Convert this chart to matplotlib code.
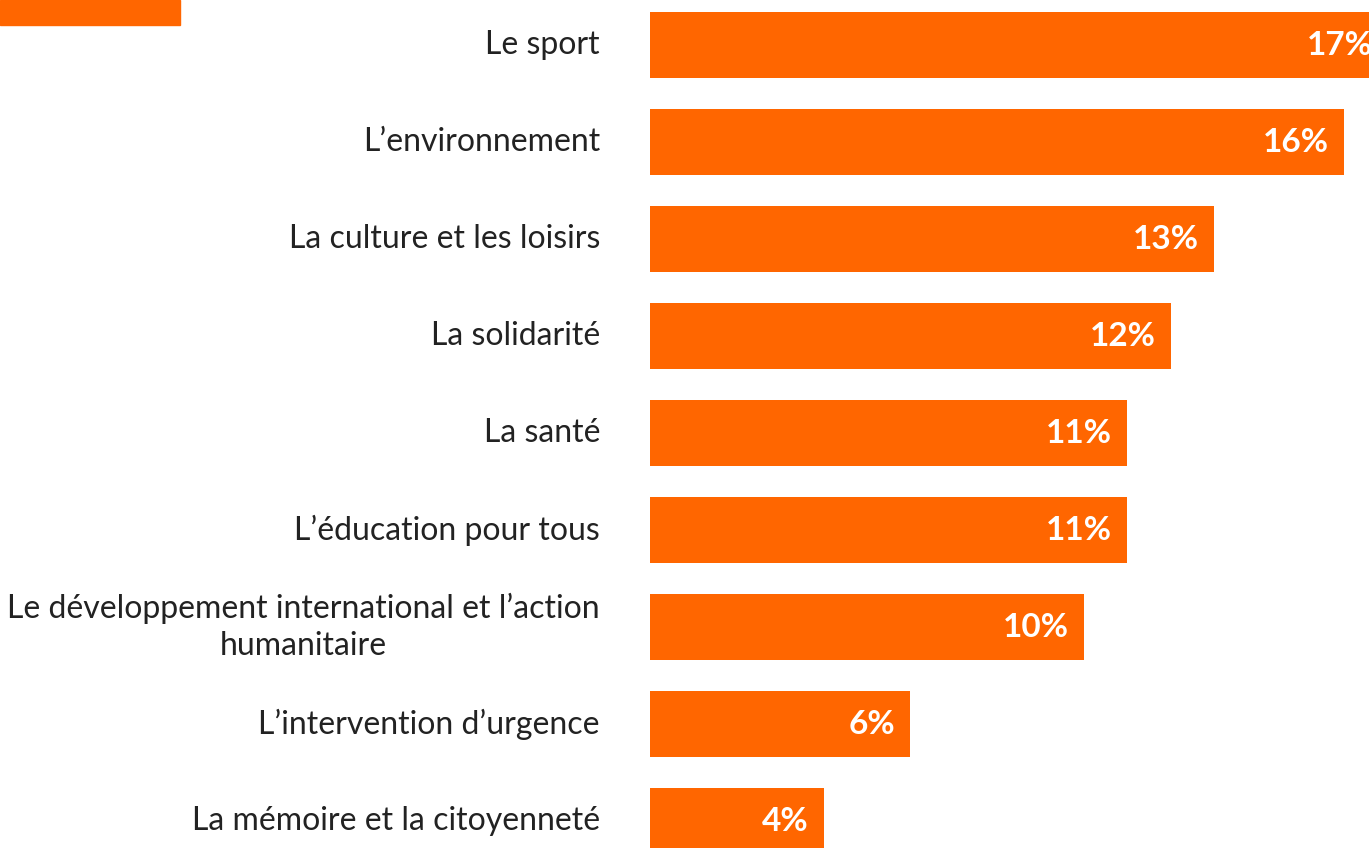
#Importing Libraries
import matplotlib.pyplot as plt
from matplotlib.patches import Rectangle

#Data
categories = [
    "Le sport",
    "L\u2019environnement",
    "La culture et les loisirs",
    "La solidarit\u00e9",
    "La sant\u00e9",
    "L\u2019\u00e9ducation pour tous",
    "Le d\u00e9veloppement international et l\u2019action\nhumanitaire",
    "L\u2019intervention d\u2019urgence",
    "La m\u00e9moire et la citoyennet\u00e9",
]
values = [17, 16, 13, 12, 11, 11, 10, 6, 4]
value_labels = ["17%", "16%", "13%", "12%", "11%", "11%", "10%", "6%", "4%"]

orange = "#FF6600"
text_color = "#222222"
plt.rcParams["font.family"] = ["Lato", "DejaVu Sans"]

#Figure
fig = plt.figure(figsize=(13.69, 8.48), dpi=100)
ax = fig.add_axes([650 / 1369, 0, 719 / 1369, 1])

y = list(range(len(categories)))
ax.barh(y, values, height=0.68, color=orange)

# visible range is clipped like the original slide
ax.set_xlim(0, 16.57)
ax.set_ylim(8.278, -0.464)
ax.axis("off")

# category labels on the left
for i, cat in enumerate(categories):
    ax.annotate(cat, xy=(0, i), xycoords="data", xytext=(-50, 0),
                textcoords="offset pixels", ha="right", va="center",
                ma="center", fontsize=23, color=text_color,
                linespacing=1.3)

# values inside the bars (the 17% one runs off the edge)
for i, (v, lab) in enumerate(zip(values, value_labels)):
    ax.annotate(lab, xy=(v, i), xycoords="data", xytext=(-15, 0),
                textcoords="offset pixels", ha="right", va="center",
                fontsize=24, fontweight="bold", color="white",
                annotation_clip=False)

# orange tab at the top left
fig.patches.append(Rectangle((0, 1 - 25 / 848), 180 / 1369, 25 / 848,
                             transform=fig.transFigure, color=orange))

plt.savefig("out.png", dpi=100)
